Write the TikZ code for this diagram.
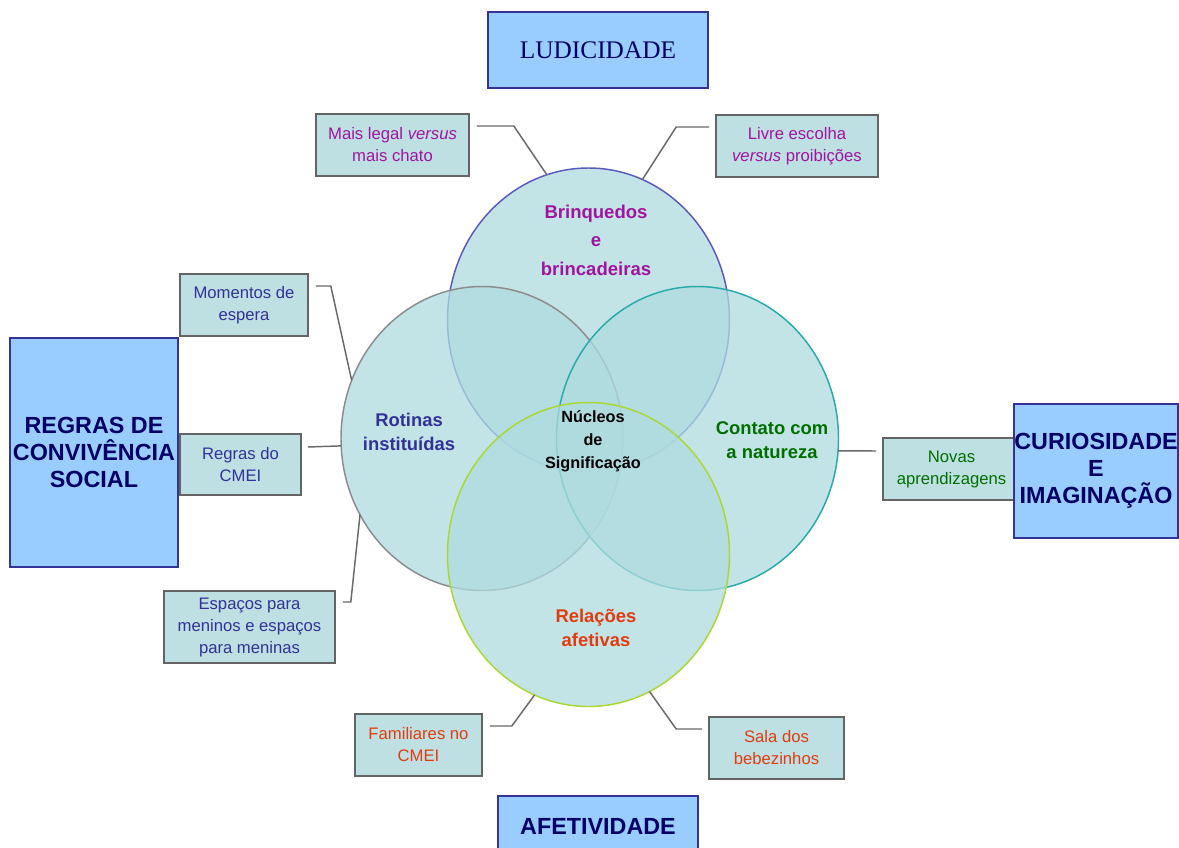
\documentclass[tikz,border=0pt]{standalone}
\usepackage{fontspec}
\setmainfont{Liberation Sans}
\newfontfamily\ludifont{Liberation Serif}
\usepackage{tikz}
\usetikzlibrary{shapes.geometric}

\definecolor{bigfill}{RGB}{153,204,255}
\definecolor{bigdraw}{RGB}{51,51,153}
\definecolor{navy}{RGB}{0,0,102}
\definecolor{smallfill}{RGB}{190,224,227}
\definecolor{smalldraw}{RGB}{100,100,100}
\definecolor{vennfill}{RGB}{175,219,223}
\definecolor{conncol}{RGB}{105,105,105}
\definecolor{topline}{RGB}{90,90,190}
\definecolor{leftline}{RGB}{140,140,140}
\definecolor{rightline}{RGB}{40,170,170}
\definecolor{bottomline}{RGB}{170,215,50}
\definecolor{magtext}{RGB}{160,20,160}
\definecolor{bluetext}{RGB}{50,50,150}
\definecolor{greentext}{RGB}{0,110,0}
\definecolor{orangetext}{RGB}{225,60,15}

\begin{document}
\begin{tikzpicture}[
        x=0.75pt, y=-0.75pt,
        venn/.style = {ellipse, line width=1.1pt, fill=vennfill, fill opacity=0.75,
            minimum width=211.5pt, minimum height=228pt, inner sep=0pt, outer sep=0pt},
        vennlabel/.style = {align=center, font=\bfseries\fontsize{13.8}{18}\selectfont},
        bigbox/.style = {rectangle, draw=bigdraw, line width=1.1pt, fill=bigfill, text=navy,
            align=center, inner sep=0pt, font=\bfseries\fontsize{17.5}{20.3}\selectfont},
        smallbox/.style = {rectangle, draw=smalldraw, line width=1.2pt, fill=smallfill,
            align=center, inner sep=0pt, minimum height=46.5pt, font=\fontsize{12.5}{16.5}\selectfont},
        conn/.style = {draw=conncol, line width=1.1pt}
    ]
    \clip (0,0) rectangle (1179,847);
    \fill[white] (0,0) rectangle (1179,847);

    %circles
    \node [venn, draw=topline] (brinq) at (588.5,320) {};
    \node [venn, draw=leftline] (rotinas) at (482,438.5) {};
    \node [venn, draw=rightline] (contato) at (697.5,438.5) {};
    \node [venn, draw=bottomline] (relacoes) at (588.5,554.5) {};

    \node [vennlabel, text=magtext, font=\bfseries\fontsize{13.9}{21.4}\selectfont] (brinqtxt) at (596,240) {Brinquedos\\e\\brincadeiras};
    \node [vennlabel, text=bluetext] (rotinastxt) at (409,432) {Rotinas\\instituídas};
    \node [vennlabel, text=greentext] (contatotxt) at (772,440) {Contato com\\a natureza};
    \node [vennlabel, text=orangetext] (relacoestxt) at (596,628) {Relações\\afetivas};
    \node [vennlabel, font=\bfseries\fontsize{12.2}{17.3}\selectfont] (nucleos) at (593,441) {Núcleos\\de\\Significação};

    %small boxes
    \node [smallbox, text=magtext, minimum width=114.75pt] (legal) at (392.5,145) {Mais legal \textit{versus}\\mais chato};
    \node [smallbox, text=magtext, minimum width=121.5pt] (livre) at (797,146) {Livre escolha\\\textit{versus} proibições};
    \node [smallbox, text=bluetext, minimum width=96pt] (momentos) at (244,305) {Momentos de\\espera};
    \node [smallbox, text=bluetext, minimum width=90.75pt, minimum height=45.75pt] (regrasb) at (240.5,464.5) {Regras do\\CMEI};
    \node [smallbox, text=bluetext, minimum width=128.25pt, minimum height=54pt] (espacos) at (249.5,627) {Espaços para\\meninos e espaços\\para meninas};
    \node [smallbox, text=greentext, minimum width=102.75pt] (novas) at (951.5,469) {Novas\\aprendizagens};
    \node [smallbox, text=orangetext, minimum width=95.25pt] (familiares) at (418.5,745) {Familiares no\\CMEI};
    \node [smallbox, text=orangetext, minimum width=101.25pt] (sala) at (776.5,748) {Sala dos\\bebezinhos};

    % lines
    \draw[conn] ([shift={(7,-19)}]legal.east) -- ++(37,0) -- (brinq.106);
    \draw[conn] ([shift={(-6,-19)}]livre.west) -- ++(-33,0) -- (brinq.69);
    \draw[conn] ([shift={(7,-19)}]momentos.east) -- ++(15,0) -- (rotinas.156);
    \draw[conn] ([shift={(6,-17.5)}]regrasb.east) -- (rotinas.183.5);
    \draw[conn] ([shift={(7,-25)}]espacos.east) -- ++(8,0) -- (rotinas.212.5);
    \draw[conn] (contato.355) -- ([shift={(-6,-18)}]novas.west);
    \draw[conn] ([shift={(7,-19)}]familiares.east) -- ++(22,0) -- (relacoes.249);
    \draw[conn] ([shift={(-6,-19)}]sala.west) -- ++(-26,0) -- (relacoes.294);

    % big boxes
    \node [bigbox, minimum width=165pt, minimum height=57pt, font=\ludifont\fontsize{19}{22}\selectfont] (ludi) at (598,50) {LUDICIDADE};
    \node [bigbox, minimum width=126pt, minimum height=171.75pt] (regras) at (94,452.5) {REGRAS DE\\CONVIVÊNCIA\\SOCIAL};
    \node [bigbox, minimum width=123pt, minimum height=100.5pt] (curio) at (1096,471) {CURIOSIDADE\\E\\IMAGINAÇÃO};
    \node [bigbox, minimum width=150pt, minimum height=45pt] (afet) at (598,826) {AFETIVIDADE};

\end{tikzpicture}
\end{document}
